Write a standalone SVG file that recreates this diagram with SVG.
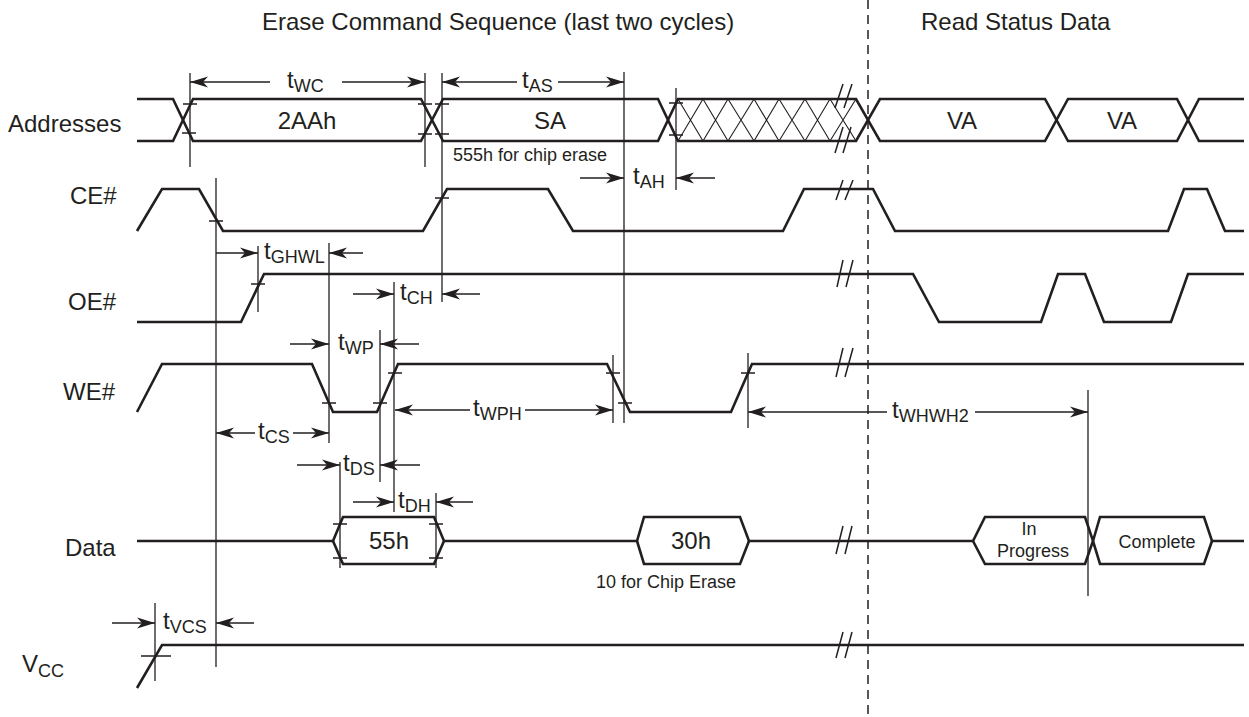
<svg xmlns="http://www.w3.org/2000/svg" width="1249" height="717" viewBox="0 0 1249 717">
<defs>
<marker id="ah" markerUnits="userSpaceOnUse" markerWidth="20" markerHeight="12" refX="18" refY="6" orient="auto">
<path d="M0,0.5 L18,6 L0,11.5 L5,6 Z" fill="#231f20"/>
</marker>
</defs>
<style>
.sig{fill:none;stroke:#231f20;stroke-width:2.6;stroke-linejoin:miter}
.ref{fill:none;stroke:#231f20;stroke-width:1.3}
.arr{fill:none;stroke:#231f20;stroke-width:1.5;marker-end:url(#ah)}
.hat{fill:none;stroke:#231f20;stroke-width:1.1}
.brk{fill:none;stroke:#231f20;stroke-width:1.5}
.lbl{font-family:"Liberation Sans",Arial,sans-serif;font-size:24px;fill:#231f20}
.sm{font-family:"Liberation Sans",Arial,sans-serif;font-size:18px;fill:#231f20}
.mid{text-anchor:middle}
.t{font-family:"Liberation Sans",Arial,sans-serif;font-size:24px;fill:#231f20}
.sub{font-size:18px}
</style>
<g id="titles">
<text class="lbl" x="262" y="30">Erase Command Sequence (last two cycles)</text>
<text class="lbl" x="921" y="30">Read Status Data</text>
</g>
<g id="labels">
<text class="lbl" x="8" y="132">Addresses</text>
<text class="lbl" x="70" y="204">CE#</text>
<text class="lbl" x="68" y="310">OE#</text>
<text class="lbl" x="63" y="400">WE#</text>
<text class="lbl" x="65" y="556">Data</text>
<text class="lbl" x="22" y="672">V<tspan class="sub" dy="5">CC</tspan></text>
</g>
<line id="divider" x1="868" y1="0" x2="868" y2="717" stroke="#231f20" stroke-width="1.5" stroke-dasharray="9 6"/>
<g id="addresses">
<path class="sig" d="M137,99 H173 L193,141 H421 L443,99 H658 L678,141 H856 L880,99 H1045 L1068,141 H1177 L1199,99 H1244"/>
<path class="sig" d="M137,141 H173 L193,99 H421 L443,141 H658 L678,99 H856 L880,141 H1045 L1068,99 H1177 L1199,141 H1244"/>
<path class="hat" d="M678,99 L703,141 M703,99 L678,141 M703,99 L728,141 M728,99 L703,141 M728,99 L754,141 M754,99 L728,141 M754,99 L779,141 M779,99 L754,141 M779,99 L805,141 M805,99 L779,141 M805,99 L830,141 M830,99 L805,141 M830,99 L856,141 M856,99 L830,141"/>
<text class="lbl mid" x="307" y="129">2AAh</text>
<text class="lbl mid" x="550" y="129">SA</text>
<text class="lbl mid" x="962" y="129">VA</text>
<text class="lbl mid" x="1122" y="129">VA</text>
<text class="sm" x="453" y="161">555h for chip erase</text>
</g>
<g id="ce">
<path class="sig" d="M137,231 L162,189 H199 L223,231 H423 L447,189 H548 L573,231 H783 L804,189 H873 L895,231 H1168 L1184,189 H1207 L1225,231 H1244"/>
</g>
<g id="oe">
<path class="sig" d="M137,322 H241 L264,274 H913 L939,322 H1041 L1058,274 H1085 L1104,322 H1171 L1188,274 H1244"/>
</g>
<g id="we">
<path class="sig" d="M137,412 L162,364 H312 L333,412 H377 L398,364 H607 L630,412 H731 L752,364 H1244"/>
</g>
<g id="data">
<path class="sig" d="M137,541 H333 L343,517 H434 L444,541 H637 L644,517 H740 L749,541 H973 L985,517 H1085 L1093,541 L1100,517 H1204 L1212,541 H1244"/>
<path class="sig" d="M333,541 L343,564 H434 L444,541 M637,541 L644,564 H740 L749,541 M973,541 L985,564 H1085 L1093,541 L1100,564 H1204 L1212,541"/>
<text class="lbl mid" x="389" y="549">55h</text>
<text class="lbl mid" x="691" y="549">30h</text>
<text class="sm mid" x="1029" y="535">In</text>
<text class="sm mid" x="1033" y="557">Progress</text>
<text class="sm mid" x="1157" y="548">Complete</text>
<text class="sm" x="596" y="588">10 for Chip Erase</text>
</g>
<g id="vcc">
<path class="sig" d="M137,688 L162,645 H1244"/>
</g>
<g id="breaks">
<path class="brk" d="M835,108 L843,84 M844,108 L852,84 M835,153 L843,127 M843,153 L851,127"/>
<path class="brk" d="M836,200 L843,180 M845,200 L853,180"/>
<path class="brk" d="M837,287 L843,260 M846,287 L853,260"/>
<path class="brk" d="M836,377 L843,348 M845,377 L853,348"/>
<path class="brk" d="M836,554 L843,526 M845,554 L852,526"/>
<path class="brk" d="M836,658 L843,632 M845,658 L852,632"/>
</g>
<g id="connectors">
<path class="ref" d="M190,73 V167 M425,73 V167 M442,73 V302 M624,72 V423 M676,88 V190 M216,178 V667 M258,246 V312 M329,243 V443 M394,282 V512 M380,330 V482 M340,462 V568 M436,493 V568 M613,355 V423 M748,353 V428 M1088,390 V596 M155,603 V681"/>
<path class="ref" d="M183,104 H197 M182,133 H196 M418,104 H432 M418,134 H432 M435,104 H449 M435,134 H449 M669,103 H683 M669,135 H683 M209,221 H223 M435,198 H449 M251,284 H265 M322,403 H336 M373,403 H387 M388,373 H402 M606,373 H620 M618,403 H632 M741,373 H755 M333,524 H347 M333,558 H347 M429,524 H443 M429,558 H443 M141,656 H171"/>
<line class="arr" x1="270" y1="82" x2="190" y2="82"/>
<line class="arr" x1="342" y1="82" x2="425" y2="82"/>
<line class="arr" x1="517" y1="82" x2="442" y2="82"/>
<line class="arr" x1="558" y1="82" x2="624" y2="82"/>
<line class="arr" x1="580" y1="178" x2="624" y2="178"/>
<line class="arr" x1="715" y1="178" x2="676" y2="178"/>
<line class="arr" x1="216" y1="253" x2="258" y2="253"/>
<line class="arr" x1="363" y1="253" x2="329" y2="253"/>
<line class="arr" x1="353" y1="294" x2="394" y2="294"/>
<line class="arr" x1="480" y1="294" x2="442" y2="294"/>
<line class="arr" x1="290" y1="344" x2="329" y2="344"/>
<line class="arr" x1="419" y1="344" x2="380" y2="344"/>
<line class="arr" x1="470" y1="410" x2="395" y2="410"/>
<line class="arr" x1="525" y1="410" x2="613" y2="410"/>
<line class="arr" x1="255" y1="433" x2="216" y2="433"/>
<line class="arr" x1="293" y1="433" x2="329" y2="433"/>
<line class="arr" x1="297" y1="465" x2="340" y2="465"/>
<line class="arr" x1="420" y1="465" x2="380" y2="465"/>
<line class="arr" x1="353" y1="502" x2="394" y2="502"/>
<line class="arr" x1="473" y1="502" x2="436" y2="502"/>
<line class="arr" x1="887" y1="412" x2="748" y2="412"/>
<line class="arr" x1="975" y1="412" x2="1088" y2="412"/>
<line class="arr" x1="112" y1="623" x2="155" y2="623"/>
<line class="arr" x1="254" y1="623" x2="216" y2="623"/>
</g>
<g id="timing-labels">
<text class="t" x="287" y="88">t<tspan class="sub" dy="4">WC</tspan></text>
<text class="t" x="522" y="88">t<tspan class="sub" dy="4">AS</tspan></text>
<text class="t" x="633" y="184">t<tspan class="sub" dy="4">AH</tspan></text>
<text class="t" x="264" y="259">t<tspan class="sub" dy="4">GHWL</tspan></text>
<text class="t" x="400" y="300">t<tspan class="sub" dy="4">CH</tspan></text>
<text class="t" x="338" y="350">t<tspan class="sub" dy="4">WP</tspan></text>
<text class="t" x="473" y="416">t<tspan class="sub" dy="4">WPH</tspan></text>
<text class="t" x="258" y="439">t<tspan class="sub" dy="4">CS</tspan></text>
<text class="t" x="343" y="471">t<tspan class="sub" dy="4">DS</tspan></text>
<text class="t" x="398" y="508">t<tspan class="sub" dy="4">DH</tspan></text>
<text class="t" x="892" y="418">t<tspan class="sub" dy="4">WHWH2</tspan></text>
<text class="t" x="163" y="629">t<tspan class="sub" dy="4">VCS</tspan></text>
</g>
</svg>
